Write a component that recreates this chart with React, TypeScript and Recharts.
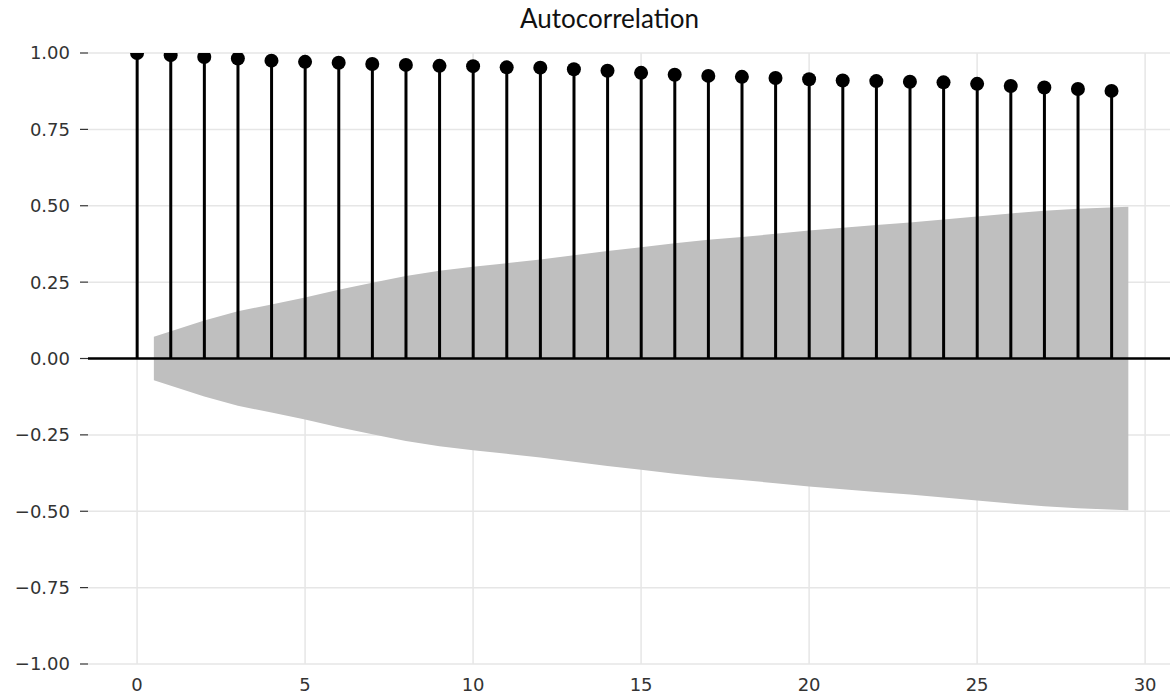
import React from "react";
import {
  ComposedChart,
  Area,
  Bar,
  Scatter,
  XAxis,
  YAxis,
  CartesianGrid,
  ReferenceLine,
} from "recharts";

const lags = [
  0, 1, 2, 3, 4, 5, 6, 7, 8, 9, 10, 11, 12, 13, 14, 15, 16, 17, 18, 19, 20,
  21, 22, 23, 24, 25, 26, 27, 28, 29,
];

const acfValues = [
  1.0, 0.993, 0.987, 0.982, 0.975, 0.971, 0.968, 0.964, 0.961, 0.958, 0.957,
  0.953, 0.952, 0.947, 0.942, 0.935, 0.929, 0.925, 0.922, 0.918, 0.914, 0.91,
  0.908, 0.906, 0.904, 0.899, 0.892, 0.887, 0.882, 0.876,
];

// confidence band: lag 1 is shifted left by 0.5, lag 29 right by 0.5
const bandLags = [
  0.5, 2, 3, 4, 5, 6, 7, 8, 9, 10, 11, 12, 13, 14, 15, 16, 17, 18, 19, 20, 21,
  22, 23, 24, 25, 26, 27, 28, 29.5,
];

const bandHalfWidth = [
  0.071, 0.124, 0.155, 0.177, 0.2, 0.225, 0.248, 0.27, 0.287, 0.3, 0.312,
  0.324, 0.338, 0.352, 0.364, 0.377, 0.389, 0.398, 0.408, 0.419, 0.428, 0.437,
  0.445, 0.455, 0.465, 0.475, 0.484, 0.49, 0.497,
];

const xTicks = [0, 5, 10, 15, 20, 25, 30];
const yTicks = [-1, -0.75, -0.5, -0.25, 0, 0.25, 0.5, 0.75, 1];
const xDomain = [-1.46, 30.74];

const acfData = lags.map((lag, i) => ({ lag, acf: acfValues[i] }));
const bandData = bandLags.map((lag, i) => ({
  lag,
  band: [-bandHalfWidth[i], bandHalfWidth[i]],
}));

const fmt = (v: number) => (v < 0 ? "\u2212" : "") + Math.abs(v).toFixed(2);

const tickStyle = { fontFamily: "DejaVu Sans", fontSize: 18, fill: "#333" };

const Dot = (props: any) => {
  const { cx, cy } = props;
  return <circle cx={cx} cy={cy} r={7} fill="#000" />;
};

// vertical grid only at the x ticks (not at the plot edges)
const gridX = (p: any) => {
  const off = p && p.offset;
  if (!off) return [];
  return xTicks.map(
    (t) => off.left + ((t - xDomain[0]) / (xDomain[1] - xDomain[0])) * off.width
  );
};

export default function App() {
  return (
    <div
      style={{
        position: "absolute",
        left: 0,
        top: 0,
        width: 1170,
        height: 699,
        background: "#fff",
      }}
    >
      <div
        style={{
          position: "absolute",
          top: 5,
          left: 0,
          width: 1219,
          textAlign: "center",
          fontFamily: "Lato",
          fontSize: 26,
          lineHeight: "26px",
          color: "#111",
        }}
      >
        Autocorrelation
      </div>
      <ComposedChart
        width={1170}
        height={699}
        data={acfData}
        margin={{ top: 53, right: 0, bottom: 5, left: 8 }}
      >
        <CartesianGrid
          stroke="#e6e6e6"
          strokeWidth={1.5}
          verticalCoordinatesGenerator={gridX}
        />
        <XAxis
          dataKey="lag"
          type="number"
          domain={xDomain}
          ticks={xTicks}
          allowDataOverflow
          axisLine={false}
          tickLine={false}
          tickSize={8}
          tickMargin={6}
          height={30}
          tick={tickStyle}
        />
        <YAxis
          type="number"
          domain={[-1, 1]}
          ticks={yTicks}
          allowDataOverflow
          tickFormatter={fmt}
          axisLine={false}
          tickLine={{ stroke: "#333", strokeWidth: 1.2 }}
          tickSize={8}
          tickMargin={10}
          width={80}
          tick={tickStyle}
        />
        <Area
          data={bandData}
          dataKey="band"
          type="linear"
          stroke="none"
          fill="#bfbfbf"
          fillOpacity={1}
          isAnimationActive={false}
        />
        <Bar dataKey="acf" barSize={3} fill="#000" isAnimationActive={false} />
        <ReferenceLine y={0} stroke="#000" strokeWidth={2.5} />
        <Scatter dataKey="acf" shape={Dot} isAnimationActive={false} />
      </ComposedChart>
    </div>
  );
}
